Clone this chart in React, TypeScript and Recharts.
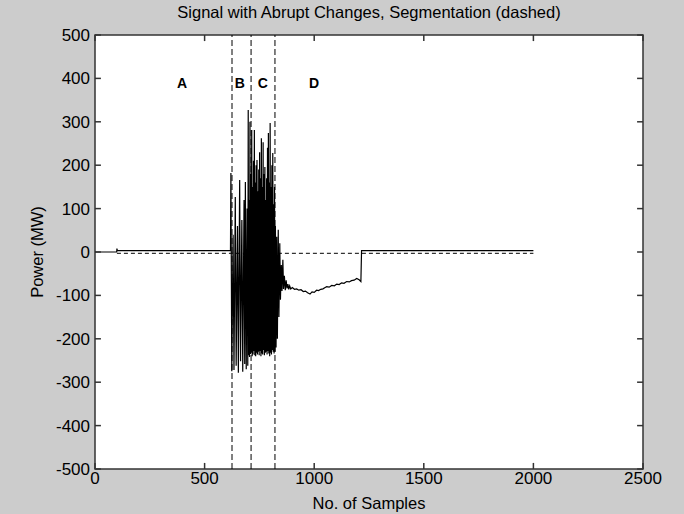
import React from "react";
import { LineChart, Line, XAxis, YAxis, ReferenceLine, ReferenceDot, ReferenceArea } from "recharts";

const sampleIdx = [
  0, 99, 100, 102, 618, 620, 624, 630, 634, 640, 644, 650, 654, 660, 664, 670, 674, 680, 683, 686, 690, 694, 697,
  699, 701, 703, 705, 707, 709, 711, 713, 715, 717, 719, 721, 723, 725, 727, 729, 731, 733, 735, 737, 739, 741, 743,
  745, 747, 749, 751, 753, 755, 757, 759, 761, 763, 765, 767, 769, 771, 773, 775, 777, 779, 781, 783, 785, 787, 789,
  791, 793, 795, 797, 799, 801, 803, 805, 807, 809, 811, 813, 815, 817, 819, 821, 823, 826, 829, 832, 836, 839,
  843, 846, 850, 853, 857, 860, 864, 868, 872, 876, 880, 884, 888, 893, 900, 910, 920, 930, 940, 950, 960, 970, 981,
  990, 1000, 1011, 1020, 1030, 1040, 1050, 1057, 1068, 1080, 1092, 1103, 1114, 1125, 1136, 1148, 1160, 1170, 1182,
  1194, 1205, 1213, 1216, 2000,
];
const powerMW = [
  0, 0, 8, 3, 3, 182, -275, 40, -272, 127, -262, 60, -278, 166, -252, 74, -276, 120, -258, 161, -270, 100, -262,
  327, -238, 120, -242, 300, -235, 180, -232, 281, -240, 150, -236, 210, -228, 281, -238, 160, -240, 200, -232, 212,
  -236, 140, -230, 190, -238, 230, -228, 170, -240, 262, -234, 150, -236, 253, -226, 180, -238, 196, -232, 120, -230,
  170, -236, 240, -228, 274, -234, 160, -240, 297, -232, 150, -236, 200, -226, 228, -230, 110, -234, 150, -230, 60,
  -220, 35, -200, 51, -150,
  20, -110, -30, -90, -18, -85, -55, -88, -65, -84, -74, -86, -78, -85, -82, -86, -85, -88, -87, -91, -90, -94, -97,
  -92, -93, -88, -89, -86, -85, -82, -80, -81, -77, -78, -74, -75, -71, -72, -68, -69, -66, -65,
  -61, -64, -68, 3, 3,
];

const segBoundaries = [625, 712, 821];
const segLevelX = [100, 2000];
const segLevelY = [-3, -3];
const segNames = ["A", "B", "C", "D"];
const segLabelX = [397, 661, 766, 999];
const segLabelY = [390, 390, 390, 390];

const xTicks = [0, 500, 1000, 1500, 2000, 2500];
const yTicks = [-500, -400, -300, -200, -100, 0, 100, 200, 300, 400, 500];
const X_MIN = 0;
const X_MAX = 2500;
const Y_MIN = -500;
const Y_MAX = 500;
const xTickLen = 27; // in x data units (~6px)
const yTickLen = 14; // in y data units (~6px)

const signalData = sampleIdx.map((x, i) => ({ x, y: powerMW[i] }));
const levelData = segLevelX.map((x, i) => ({ x, y: segLevelY[i] }));

const FONT = "'Liberation Sans', Arial, sans-serif";
const AXIS = "#333333";

const FixedText = (p: { tx: number; ty: number; text: string; rotate?: number; size?: number }) => (
  <text
    x={p.tx}
    y={p.ty}
    textAnchor="middle"
    fontFamily={FONT}
    fontSize={p.size ?? 16.5}
    fill="#000"
    transform={p.rotate ? `rotate(${p.rotate} ${p.tx} ${p.ty})` : undefined}
  >
    {p.text}
  </text>
);

export default function App() {
  return (
    <div style={{ position: "absolute", left: 0, top: 0, width: 684, height: 514, background: "#cccccc" }}>
      <LineChart width={684} height={514} margin={{ top: 35, right: 41, bottom: 0, left: 0 }}>
        <XAxis
          xAxisId="b"
          type="number"
          dataKey="x"
          domain={[X_MIN, X_MAX]}
          ticks={xTicks}
          interval={0}
          orientation="bottom"
          height={45}
          tickSize={0}
          tickMargin={3}
          axisLine={false}
          tickLine={false}
          tick={{ fill: "#000", fontSize: 17, fontFamily: FONT }}
          allowDataOverflow
          label={<FixedText tx={369} ty={509} text="No. of Samples" />}
        />
        <YAxis
          yAxisId="l"
          type="number"
          domain={[Y_MIN, Y_MAX]}
          ticks={yTicks}
          interval={0}
          width={95}
          tickSize={0}
          tickMargin={5}
          axisLine={false}
          tickLine={false}
          tick={{ fill: "#000", fontSize: 17, fontFamily: FONT }}
          allowDataOverflow
          label={<FixedText tx={43} ty={252} text="Power (MW)" rotate={-90} />}
        />
        <ReferenceArea
          xAxisId="b"
          yAxisId="l"
          x1={X_MIN}
          x2={X_MAX}
          y1={Y_MIN}
          y2={Y_MAX}
          fill="#ffffff"
          fillOpacity={1}
          stroke="none"
          label={<FixedText tx={369} ty={18} text="Signal with Abrupt Changes, Segmentation (dashed)" size={16.5} />}
        />
        {segBoundaries.map((b) => (
          <ReferenceLine
            key={b}
            xAxisId="b"
            yAxisId="l"
            x={b}
            stroke="#000"
            strokeWidth={1}
            strokeDasharray="6 3"
          />
        ))}
        <Line
          xAxisId="b"
          yAxisId="l"
          data={levelData}
          dataKey="y"
          type="linear"
          stroke="#000"
          strokeWidth={1}
          strokeDasharray="4 3"
          dot={false}
          isAnimationActive={false}
        />
        <Line
          xAxisId="b"
          yAxisId="l"
          data={signalData}
          dataKey="y"
          type="linear"
          stroke="#000"
          strokeWidth={1.2}
          dot={false}
          isAnimationActive={false}
        />
        {xTicks.map((t) => (
          <ReferenceLine
            key={"xb" + t}
            xAxisId="b"
            yAxisId="l"
            segment={[{ x: t, y: Y_MIN }, { x: t, y: Y_MIN + yTickLen }]}
            stroke={AXIS}
            strokeWidth={1.5}
          />
        ))}
        {xTicks.map((t) => (
          <ReferenceLine
            key={"xt" + t}
            xAxisId="b"
            yAxisId="l"
            segment={[{ x: t, y: Y_MAX }, { x: t, y: Y_MAX - yTickLen }]}
            stroke={AXIS}
            strokeWidth={1.5}
          />
        ))}
        {yTicks.map((t) => (
          <ReferenceLine
            key={"yl" + t}
            xAxisId="b"
            yAxisId="l"
            segment={[{ x: X_MIN, y: t }, { x: X_MIN + xTickLen, y: t }]}
            stroke={AXIS}
            strokeWidth={1.5}
          />
        ))}
        {yTicks.map((t) => (
          <ReferenceLine
            key={"yr" + t}
            xAxisId="b"
            yAxisId="l"
            segment={[{ x: X_MAX, y: t }, { x: X_MAX - xTickLen, y: t }]}
            stroke={AXIS}
            strokeWidth={1.5}
          />
        ))}
        <ReferenceArea
          xAxisId="b"
          yAxisId="l"
          x1={X_MIN}
          x2={X_MAX}
          y1={Y_MIN}
          y2={Y_MAX}
          fill="none"
          stroke={AXIS}
          strokeWidth={1.5}
        />
        {segNames.map((n, i) => (
          <ReferenceDot
            key={n}
            xAxisId="b"
            yAxisId="l"
            x={segLabelX[i]}
            y={segLabelY[i]}
            r={0}
            fill="none"
            stroke="none"
            label={{ value: n, position: "center", fill: "#000", fontSize: 14, fontWeight: "bold", fontFamily: FONT }}
          />
        ))}
      </LineChart>
    </div>
  );
}
